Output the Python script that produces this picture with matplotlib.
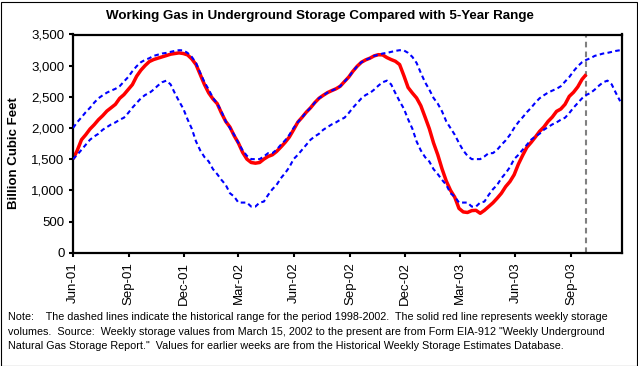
import numpy as np
import matplotlib
import matplotlib.pyplot as plt
import matplotlib.dates as mdates
from matplotlib.patches import Rectangle
from matplotlib.ticker import FuncFormatter

matplotlib.use("Agg")
plt.rcParams["font.family"] = "Liberation Sans"

# first week shown (weekly values follow every 7 days)
start = np.datetime64("2001-06-01")

# 5-year (1998-2002) range, Bcf, one value per week starting the first week of June.
# The same weekly range is drawn again for every year on the chart.
range_high = [2000, 2094, 2171, 2254, 2324, 2407, 2477, 2525, 2568, 2600,
              2629, 2670, 2745, 2817, 2911, 2991, 3055, 3093, 3120, 3157,
              3176, 3195, 3205, 3221, 3237, 3248, 3245, 3205, 3141, 3044,
              2884, 2734, 2616, 2482, 2390, 2267, 2106, 1999, 1892, 1758,
              1640, 1554, 1501, 1501, 1501, 1544, 1597, 1597, 1651, 1731,
              1801, 1890]
range_low = [1501, 1570, 1651, 1731, 1812, 1865, 1908, 1972, 2015, 2058,
             2090, 2133, 2165, 2240, 2326, 2401, 2476, 2530, 2562, 2616,
             2680, 2734, 2760, 2700, 2560, 2430, 2310, 2140, 1990, 1785,
             1640, 1533, 1463, 1340, 1260, 1168, 1088, 954, 900, 804,
             804, 804, 740, 740, 804, 820, 927, 1018, 1088, 1195,
             1276, 1372]
range_weeks = 130

# weekly working gas in storage, Bcf, Jun 2001 - late Sep 2003
storage = [
    1501, 1640, 1812, 1892, 1983, 2053, 2133, 2198, 2273, 2326,
    2380, 2476, 2535, 2616, 2696, 2830, 2927, 3002, 3066, 3098,
    3120, 3141, 3162, 3184, 3195, 3205, 3195, 3173, 3109, 3018,
    2857, 2696, 2562, 2466, 2391, 2240, 2106, 2015, 1876, 1758,
    1608, 1501, 1447, 1436, 1447, 1501, 1544, 1570, 1624, 1694,
    1769, 1855, 1972, 2094, 2171, 2254, 2324, 2407, 2477, 2525,
    2568, 2600, 2629, 2670, 2745, 2817, 2911, 2991, 3055, 3093,
    3120, 3157, 3176, 3173, 3130, 3098, 3071, 3018, 2840, 2650,
    2562, 2482, 2358, 2176, 1990, 1760, 1570, 1345, 1150, 1000,
    890, 710, 654, 645, 675, 680, 632, 680, 740, 800,
    874, 954, 1060, 1140, 1250, 1420, 1560, 1690, 1769, 1855,
    1946, 2015, 2106, 2176, 2267, 2305, 2380, 2508, 2573, 2660,
    2780, 2860,
]

title = "Working Gas in Underground Storage Compared with 5-Year Range"
ylabel = "Billion Cubic Feet"
note_lines = [
    "Note:    The dashed lines indicate the historical range for the period 1998-2002.  "
    "The solid red line represents weekly storage",
    "volumes.  Source:  Weekly storage values from March 15, 2002 to the present are from "
    "Form EIA-912 \"Weekly Underground",
    "Natural Gas Storage Report.\"  Values for earlier weeks are from the Historical "
    "Weekly Storage Estimates Database.",
]

W, H = 638, 366
fig = plt.figure(figsize=(W / 100, H / 100), dpi=100)
ax = fig.add_axes([73 / W, 1 - 252.7 / H, 549 / W, 218.2 / H])

range_dates = start + np.arange(range_weeks) * np.timedelta64(7, "D")
hi = [range_high[i % 52] for i in range(range_weeks)]
lo = [range_low[i % 52] for i in range(range_weeks)]
store_dates = start + np.arange(len(storage)) * np.timedelta64(7, "D")

ax.plot(store_dates, storage, color="#ff0000", lw=2.5, zorder=2, solid_capstyle="butt")
dash = (0, (2.2, 1.6))
ax.plot(range_dates, hi, color="#0000ff", lw=1.5, linestyle=dash, zorder=3)
ax.plot(range_dates, lo, color="#0000ff", lw=1.5, linestyle=dash, zorder=3)
ax.axvline(store_dates[-1], color="#808080", lw=1.5, linestyle=(0, (2.7, 2.0)), zorder=1)

ax.set_xlim(start, start + np.timedelta64(906, "D"))
ax.set_ylim(0, 3500)
ax.set_yticks(np.arange(0, 3501, 500))
ax.yaxis.set_major_formatter(FuncFormatter(lambda v, p: f"{v:,.0f}"))
ax.xaxis.set_major_locator(mdates.MonthLocator(bymonth=[3, 6, 9, 12]))
ax.xaxis.set_major_formatter(mdates.DateFormatter("%b-%y"))

for s in ax.spines.values():
    s.set_linewidth(1.6)
    s.set_color("black")
ax.tick_params(axis="both", direction="out", length=3, width=1.5, labelsize=9.5,
               colors="black")
ax.tick_params(axis="y", pad=3)
ax.tick_params(axis="x", pad=4)
for lab in ax.get_xticklabels():
    lab.set_rotation(90)

fig.text(320 / W, 1 - 16 / H, title, ha="center", va="center",
         fontsize=9.6, fontweight="bold")
fig.text(14 / W, 1 - 153 / H, ylabel, ha="center", va="center", rotation=90,
         fontsize=9.5, fontweight="bold")
for y, line in zip([316.7, 331.7, 345.7], note_lines):
    fig.text(7.5 / W, 1 - y / H, line, ha="left", va="center", fontsize=7.75)

fig.patches.append(Rectangle((0.5 / W, 0.5 / H), 636 / W, 364 / H,
                             transform=fig.transFigure, fill=False,
                             edgecolor="black", lw=0.8))

fig.savefig("out.png", dpi=100)
